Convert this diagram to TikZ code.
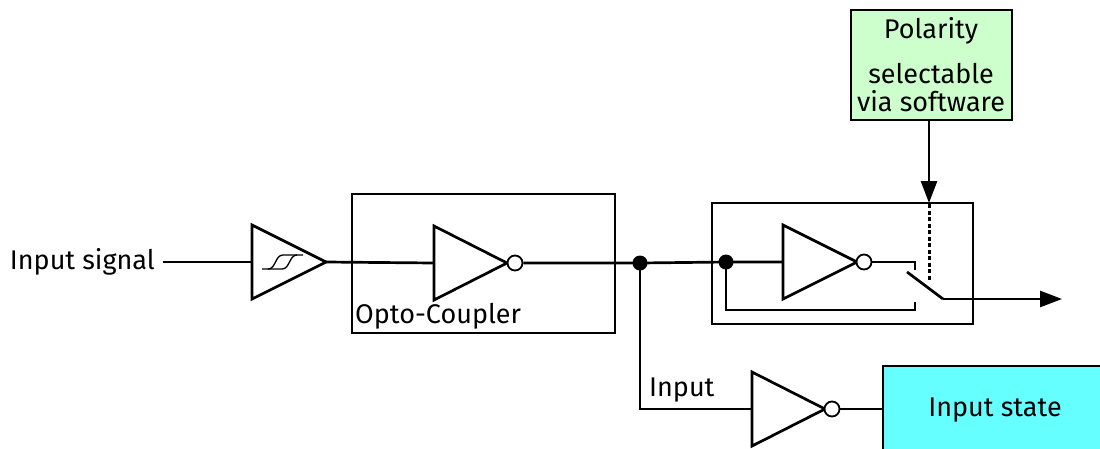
\documentclass[tikz,border=0pt]{standalone}
\usepackage{fontspec}
\setmainfont{Fira Sans}
\usetikzlibrary{arrows.meta}
\definecolor{polgreen}{HTML}{CCFFCC}
\definecolor{statecyan}{HTML}{66FFFF}
\begin{document}
\begin{tikzpicture}[x=1pt,y=-1pt,
  wire/.style={line width=2.7pt},
  gate/.style={line width=2.7pt,line join=miter},
  bub/.style={circle,draw,line width=1.8pt,fill=white,minimum size=15pt,inner sep=0pt},
  jdot/.style={circle,fill=black,minimum size=15pt,inner sep=0pt},
  lbl/.style={font=\fontsize{27}{30}\selectfont,inner sep=0pt},
  tip/.style={-{Triangle[length=22pt,width=16pt]}}]
\useasboundingbox (0,0) rectangle (1100,448);
\begin{scope}
\clip (0,0) rectangle (1100,448);
% boxes
\draw[gate] (352,194) rectangle (615,333);
\draw[gate] (712,203) rectangle (973,324);
\draw[gate,fill=polgreen] (851,10) rectangle (1012,120);
\draw[gate,fill=statecyan] (883,366) rectangle (1120,470);
\end{scope}
% texts
\node[lbl,anchor=east] (insig) at (155,262) {Input signal};
\node[lbl,anchor=south west] (opto) at (355,329) {Opto-Coupler};
\node[lbl] (pol1) at (931,31) {Polarity};
\node[lbl] (pol2) at (931,74) {selectable};
\node[lbl] (pol3) at (931,101) {via software};
\node[lbl] (instate) at (995,410) {Input state};
\node[lbl,anchor=south west] (inlbl) at (649,402) {Input};
% coordinates
\coordinate (sIn) at (163,262);
\coordinate (bufL) at (252,262);
\coordinate (bufT) at (326,262);
\coordinate (inv1L) at (434,263);
\coordinate (inv1T) at (507,263);
\coordinate (inv2L) at (752,409);
\coordinate (inv2T) at (825,409);
\coordinate (inv3L) at (783,262);
\coordinate (inv3T) at (857,262);
\coordinate (stL) at (883,409);
% gates
\draw[gate,fill=white] (252,225) -- (326,262) -- (252,299) -- cycle;
\draw[line width=1.3pt] (262,269) -- (282,269) .. controls (290,269) and (289,255) .. (297,255) -- (303,255);
\draw[line width=1.3pt] (268,269) .. controls (276,269) and (275,255) .. (283,255) -- (297,255);
\draw[gate,fill=white] (434,226) -- (507,263) -- (434,300) -- cycle;
\draw[gate,fill=white] (752,372) -- (825,409) -- (752,446) -- cycle;
\draw[gate,fill=white] (783,225) -- (857,262) -- (783,299) -- cycle;
\node[bub] (b1) at (515,263) {};
\node[bub] (b2) at (832,409) {};
\node[bub] (b3) at (864,262) {};
\node[jdot] (d1) at (640,263) {};
\node[jdot] (d2) at (726,262) {};
% wires
\draw[wire] (sIn) -- (bufL);
\draw[wire] (bufT) -- (inv1L);
\draw[wire] (b1.east) -- (d1.center) -- (d2.center) -- (inv3L);
\draw[wire] (d1.center) |- (inv2L);
\draw[wire] (b2.east) -- (stL);
\draw[wire] (b3.east) -- (915,262) -- (915,270);
\draw[wire] (d2.center) |- (915,310) -- (915,302);
\coordinate (swA) at (907,272);
\coordinate (swB) at (943,299);
\coordinate (outEnd) at (1062,299);
\draw[wire] (swA) -- (swB);
\draw[wire,tip] (swB) -- (outEnd);
\coordinate (polB) at (929,120);
\coordinate (boxT) at (929,203);
\draw[wire,tip] (polB) -- (boxT);
\draw[line width=3pt,dash pattern=on 4pt off 2.5pt] (929,204) -- (929,280);
\end{tikzpicture}
\end{document}
